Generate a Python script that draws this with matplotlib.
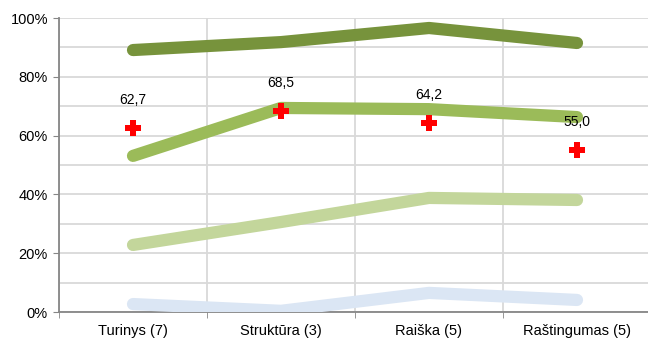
import matplotlib
matplotlib.use('Agg')
import matplotlib.pyplot as plt
from matplotlib.ticker import MultipleLocator, FixedLocator

categories = ['Turinys (7)', 'Struktūra (3)', 'Raiška (5)', 'Raštingumas (5)']
dark_green = [89.1, 91.8, 96.6, 91.5]
mid_green = [53.1, 69.4, 69.0, 66.3]
light_green = [22.8, 30.6, 38.8, 38.1]
light_blue = [2.7, 0.4, 6.5, 4.1]
avg = [62.7, 68.5, 64.2, 55.0]
avg_labels = ['62,7', '68,5', '64,2', '55,0']

plt.rcParams['font.family'] = ['Liberation Sans', 'DejaVu Sans']

fig = plt.figure(figsize=(6.48, 3.43), dpi=100)
ax = fig.add_axes([59/648, 31/343, 592/648, 294/343])

x = list(range(len(categories)))
series = [(light_blue, '#DBE6F4'), (light_green, '#C3D69B'),
          (mid_green, '#9BBB59'), (dark_green, '#77933C')]
for vals, col in series:
    ax.plot(x, vals, color=col, lw=8.8, solid_capstyle='round',
            solid_joinstyle='round', zorder=3)

# red crosses = average score, labelled above
ax.plot(x, avg, linestyle='none', marker='P', markersize=12,
        color='#FF0000', markeredgewidth=0, zorder=4)
for xi, v, lab in zip(x, avg, avg_labels):
    ax.annotate(lab, (xi, v), xytext=(0, 15), textcoords='offset points',
                ha='center', va='bottom', fontsize=10, color='#000000', zorder=5)

ax.set_xlim(-0.5, 3.5)
ax.set_ylim(0, 100)
ax.yaxis.set_minor_locator(MultipleLocator(10))
ax.set_yticks([0, 20, 40, 60, 80, 100])
ax.set_yticklabels(['0%', '20%', '40%', '60%', '80%', '100%'], fontsize=10.5)
ax.set_xticks(x)
ax.set_xticklabels(categories, fontsize=10.5)
ax.tick_params(axis='x', which='major', length=0, pad=9)
ax.xaxis.set_minor_locator(FixedLocator([-0.5, 0.5, 1.5, 2.5]))
ax.tick_params(axis='x', which='minor', length=4, color='#868686', direction='out')
ax.tick_params(axis='y', which='major', length=4, color='#868686', pad=4)
ax.tick_params(axis='y', which='minor', length=0)

ax.grid(True, which='both', axis='y', color='#D9D9D9', lw=1.3, zorder=0)
ax.grid(True, which='minor', axis='x', color='#D9D9D9', lw=1.3, zorder=0)
ax.set_axisbelow(True)

for s in ['top', 'right']:
    ax.spines[s].set_visible(False)
for s in ['left', 'bottom']:
    ax.spines[s].set_color('#868686')
    ax.spines[s].set_linewidth(1.3)

fig.savefig('out.png', dpi=100)
